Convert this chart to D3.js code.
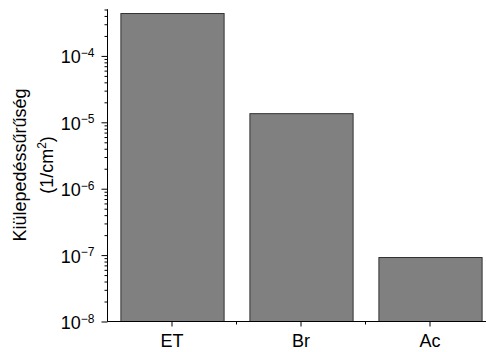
<!DOCTYPE html>
<html><head><meta charset="utf-8">
<script src="https://cdn.jsdelivr.net/npm/d3@7"></script>
<style>body{margin:0;background:#fff}svg{display:block}text{font-family:Arial,"Liberation Sans",sans-serif;fill:#000}</style>
</head><body><svg id="c" width="486" height="352"></svg>
<script>
const categories = ["ET", "Br", "Ac"];
const values = [4.35e-4, 1.35e-5, 9.2e-8];
const yMajorExps = [-8, -7, -6, -5, -4];
const yDomain = [1e-8, 5e-4];

(function () {
const svg = d3.select("#c");
const mLeft = 107.5, mBottom = 321.5, mTop = 9.5;
const x = d3.scaleBand().domain(categories).range([mLeft, mLeft + 3 * 129]).paddingInner(0.2).paddingOuter(0.1);
const y = d3.scaleLog().domain(yDomain).range([mBottom, mTop]);

// bars
svg.append("g").selectAll("rect").data(categories).join("rect")
  .attr("x", d => x(d) + 0.5)
  .attr("y", (d, i) => y(values[i]))
  .attr("width", x.bandwidth())
  .attr("height", (d, i) => mBottom - y(values[i]))
  .attr("fill", "#808080").attr("stroke", "#333").attr("stroke-width", 1);

// y axis
const minorTicks = [];
for (let e = -8; e <= -4; e++) for (let m = 2; m <= 9; m++) { const v = m * Math.pow(10, e); if (v <= yDomain[1]) minorTicks.push(v); }
const yAxisMinor = d3.axisLeft(y).tickValues(minorTicks).tickSize(3).tickFormat("");
const gyMin = svg.append("g").attr("transform", `translate(${mLeft},0)`).call(yAxisMinor);
const yAxis = d3.axisLeft(y).tickValues(yMajorExps.map(e => Math.pow(10, e))).tickSize(6).tickFormat("");
const gy = svg.append("g").attr("transform", `translate(${mLeft},0)`).call(yAxis);
[gyMin, gy].forEach(g => { g.select(".domain").attr("stroke", "#000").attr("d", `M0,${mTop}V${mBottom}`); g.selectAll(".tick line").attr("stroke", "#000"); });

// y labels with superscripts
const yl = svg.append("g").selectAll("text").data(yMajorExps).join("text")
  .attr("x", mLeft - 13).attr("y", d => y(Math.pow(10, d)) + 7.5)
  .attr("text-anchor", "end").style("font-size", "18px");
yl.append("tspan").text("10");
yl.append("tspan").attr("dy", -6.5).style("font-size", "12px").text(d => "\u2212" + Math.abs(d));

// x axis
const xAxis = d3.axisBottom(x).tickSize(5).tickFormat("");
const gx = svg.append("g").attr("transform", `translate(0,${mBottom})`).call(xAxis);
gx.select(".domain").attr("stroke", "#000").attr("d", `M${mLeft},0H486`);
gx.selectAll(".tick line").attr("stroke", "#000");
const bounds = categories.slice(1).map(c => x(c) - x.step() * x.paddingInner() / 2);
svg.append("g").selectAll("line").data(bounds).join("line")
  .attr("x1", d => d).attr("x2", d => d).attr("y1", mBottom).attr("y2", mBottom + 3).attr("stroke", "#000");
svg.append("g").selectAll("text").data(categories).join("text")
  .attr("x", d => x(d) + x.bandwidth() / 2).attr("y", 347)
  .attr("text-anchor", "middle").style("font-size", "18px").text(d => d);

// y title
const t = svg.append("text").attr("transform", "translate(0,165) rotate(-90)").attr("text-anchor", "middle").style("font-size", "18px");
t.append("tspan").attr("x", 0).attr("y", 26).text("Kiülepedéssűrűség");
const t2 = t.append("tspan").attr("x", 0).attr("y", 53);
t2.text("(1/cm");
t.append("tspan").attr("dy", -7).style("font-size", "12px").text("2");
t.append("tspan").attr("dy", 7).text(")");
})();
</script></body></html>
